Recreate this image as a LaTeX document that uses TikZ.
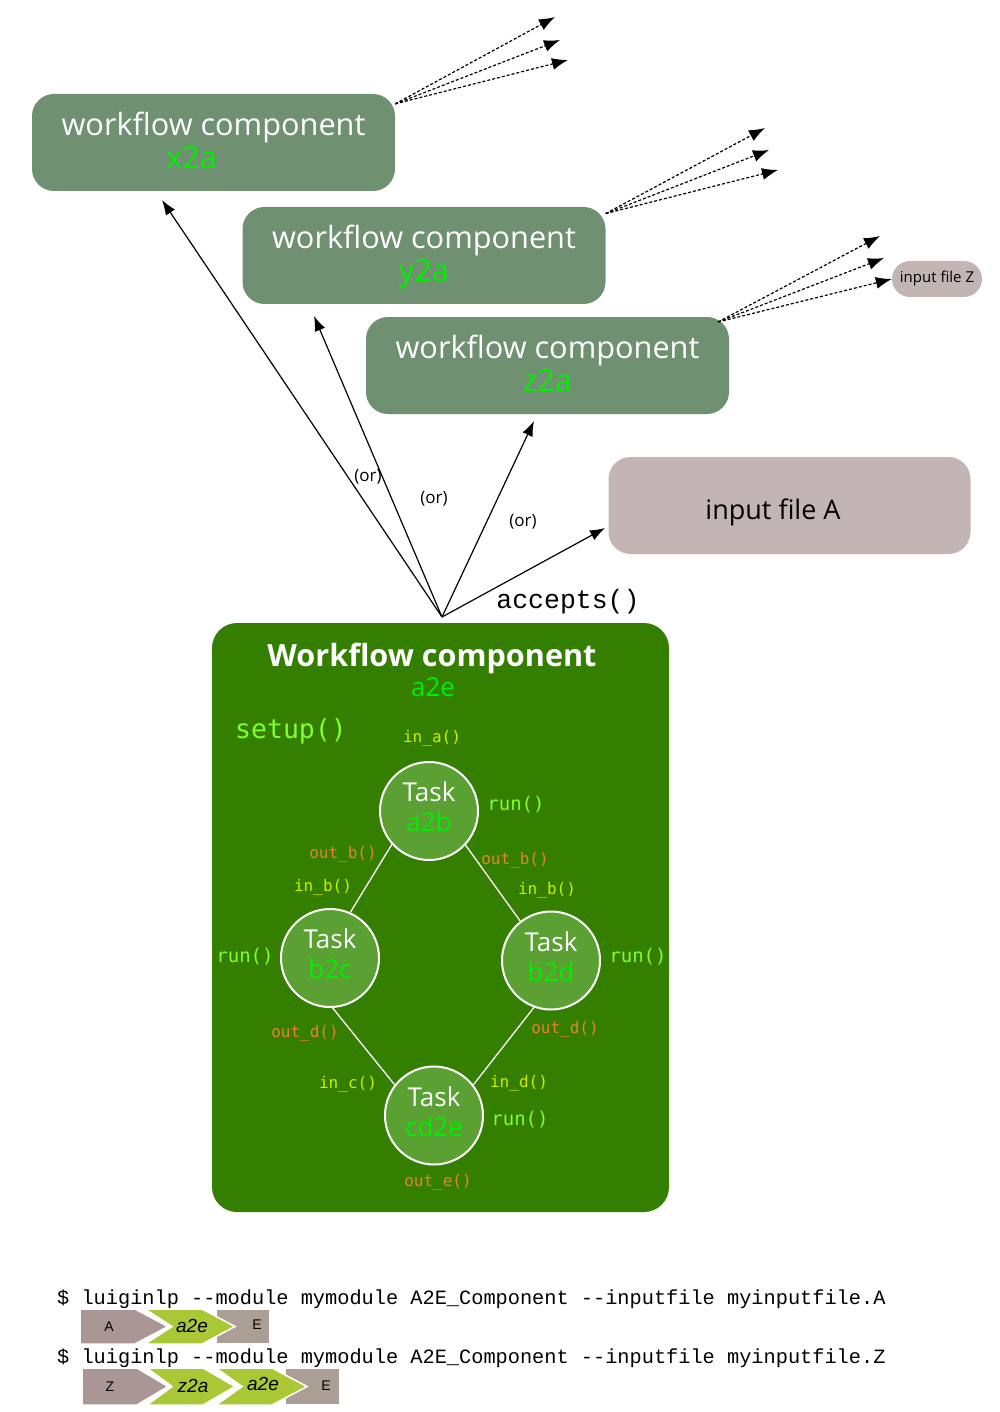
\documentclass[tikz,border=0pt]{standalone}
\usepackage{fontspec}
\setmainfont{Open Sans}
\setmonofont{DejaVu Sans Mono}
\newfontfamily\cmdfont{Liberation Mono}
\newfontfamily\tagfont{Liberation Sans}
\usetikzlibrary{arrows.meta,shapes.misc}
\definecolor{wfgrey}{HTML}{6F9171}
\definecolor{wfgreen}{HTML}{347F00}
\definecolor{taskgreen}{HTML}{5AA032}
\definecolor{idgreen}{HTML}{00F000}
\definecolor{outorange}{HTML}{EE7F2D}
\definecolor{inyellow}{HTML}{CCEE00}
\definecolor{rungreen}{HTML}{80FF30}
\definecolor{filepink}{HTML}{C4B5B5}
\definecolor{tagmauve}{HTML}{AB9696}
\definecolor{tagolive}{HTML}{AAC735}
\definecolor{taggrey}{HTML}{AB9F95}
\tikzset{
wfbox/.style={rectangle,rounded corners=22pt,fill=wfgrey,minimum width=363pt,minimum height=97pt,
  align=center,text=white,inner sep=0pt,text depth=4pt,font=\fontsize{30.7}{33}\selectfont},
filebox/.style={rectangle,rounded corners=22pt,fill=filepink,minimum width=362pt,minimum height=97pt},
task/.style={circle,draw=white,line width=2pt,fill=taskgreen,minimum size=98pt,inner sep=0pt,
  align=center,text=white,text depth=8pt,font=\fontsize{26}{30}\selectfont},
taskline/.style={draw=white,line width=1.3pt},
accept/.style={-{Latex[length=15pt,width=11pt]},line width=1.2pt},
output/.style={-{Latex[length=16pt,width=12pt]},line width=1.2pt,dash pattern=on 3pt off 2pt},
inlabel/.style={text=inyellow,font=\ttfamily\fontsize{16}{18}\selectfont},
outlabel/.style={text=outorange,font=\ttfamily\fontsize{16}{18}\selectfont},
runlabel/.style={text=rungreen,font=\ttfamily\fontsize{19}{21}\selectfont},
orlabel/.style={font=\fontsize{17}{19}\selectfont},
tag/.style={draw=white,line width=1.5pt},
}
\tikzstyle{cmd} = [anchor=west, inner sep=0pt, font=\cmdfont\fontsize{20.3}{22}\selectfont]

\begin{document}
\begin{tikzpicture}[x=1pt,y=-1pt]
\useasboundingbox (0,0) rectangle (1000,1412);

% other components
\node[wfbox] (x2a) at (213.5,142.5) {workflow component\\\textcolor{idgreen}{x2a}\hspace*{44pt}};
\node[wfbox] (y2a) at (424,255.5) {workflow component\\\textcolor{idgreen}{y2a}};
\node[wfbox] (z2a) at (547.5,365.5) {workflow component\\\textcolor{idgreen}{z2a}};
\node[filebox] (inA) at (789.5,505.5) {};
\node[font=\fontsize{27}{30}\selectfont] (inAtext) at (773,512) {input file A};
\node[rounded rectangle,fill=filepink,minimum width=90pt,minimum height=36pt,inner sep=0pt,
  font=\fontsize{15}{17}\selectfont] (inZ) at (937,279) {input file Z};

% dashed outputs
\coordinate (z2src) at (718,322);
\coordinate (x2o1) at (555,17);
\coordinate (x2o2) at (560,40);
\coordinate (x2o3) at (568,60);
\coordinate (y2o1) at (765,128);
\coordinate (y2o2) at (769,150);
\coordinate (y2o3) at (778,170);
\coordinate (z2o1) at (880,236);
\coordinate (z2o2) at (884,258);
\draw[output] (x2a.12) -- (x2o1);
\draw[output] (x2a.12) -- (x2o2);
\draw[output] (x2a.12) -- (x2o3);
\draw[output] (y2a.13) -- (y2o1);
\draw[output] (y2a.13) -- (y2o2);
\draw[output] (y2a.13) -- (y2o3);
\draw[output] (z2src) -- (z2o1);
\draw[output] (z2src) -- (z2o2);
\draw[output] (z2src) -- (inZ.west);

% main component
\node[rectangle,rounded corners=25pt,fill=wfgreen,minimum width=457pt,minimum height=589pt,inner sep=0pt]
  (a2e) at (440.5,917.5) {};
\node[text=white,font=\bfseries\fontsize{30.6}{33}\selectfont] (title) at (432,658) {Workflow component};
\node[text=idgreen,font=\fontsize{26}{29}\selectfont] (name) at (433,687) {a2e};
\node[text=rungreen,font=\ttfamily\fontsize{26.5}{29}\selectfont] (setup) at (291,731) {setup()};

% accepts
\coordinate (acc) at (442,617);
\coordinate (tx2a) at (162,200);
\coordinate (ty2a) at (314,316);
\coordinate (tz2a) at (534,421);
\coordinate (tinA) at (605,528);
\draw[accept] (acc) -- (tx2a);
\draw[accept] (acc) -- (ty2a);
\draw[accept] (acc) -- (tz2a);
\draw[accept] (acc) -- (tinA);
\node[orlabel] (or1) at (368,477) {(or)};
\node[orlabel] (or2) at (434,499) {(or)};
\node[orlabel] (or3) at (523,522) {(or)};
\node[font=\cmdfont\fontsize{26.5}{29}\selectfont] (acctext) at (568,602) {accepts()};

% tasks
\node[task] (a2b) at (429,811) {Task\\\textcolor{idgreen}{a2b}};
\node[task] (b2c) at (330,958) {Task\\\textcolor{idgreen}{b2c}};
\node[task] (b2d) at (551,960.5) {Task\\\textcolor{idgreen}{b2d}};
\node[task] (cd2e) at (434,1115.5) {Task\\\textcolor{idgreen}{cd2e}};
\draw[taskline] (a2b.222) -- (b2c.66);
\draw[taskline] (a2b.317) -- (b2d.128);
\draw[taskline] (b2c.273) -- (cd2e.142);
\draw[taskline] (b2d.250) -- (cd2e.38);

\node[inlabel] (ina) at (432,738) {in\_a()};
\node[runlabel] (runa) at (516,805) {run()};
\node[outlabel] (outb1) at (343,854) {out\_b()};
\node[inlabel] (inb1) at (323,887) {in\_b()};
\node[outlabel] (outb2) at (515,860) {out\_b()};
\node[inlabel] (inb2) at (547,890) {in\_b()};
\node[runlabel] (runc) at (245,957) {run()};
\node[runlabel] (rund) at (638,957) {run()};
\node[outlabel] (outd1) at (305,1033) {out\_d()};
\node[outlabel] (outd2) at (565,1029) {out\_d()};
\node[inlabel] (inc) at (348,1084) {in\_c()};
\node[inlabel] (ind) at (519,1083) {in\_d()};
\node[runlabel] (rune) at (520,1120) {run()};
\node[outlabel] (oute) at (438,1182) {out\_e()};

% command lines
\node[cmd] (cmdA) at (57,1299) {\$ luiginlp -{}-module mymodule A2E\_Component -{}-inputfile myinputfile.A};
\node[cmd] (cmdZ) at (57,1358) {\$ luiginlp -{}-module mymodule A2E\_Component -{}-inputfile myinputfile.Z};

\fill[tagmauve,tag] (80,1309) -- (135,1309) -- (168,1326.5) -- (135,1344) -- (80,1344) -- cycle;
\fill[taggrey,tag] (216,1309) rectangle (270,1344);
\fill[tagolive,tag] (145,1309) -- (202,1309) -- (235,1326.5) -- (202,1344) -- (145,1344) -- (172,1326.5) -- cycle;
\node[font=\tagfont\fontsize{14}{16}\selectfont] (tA) at (109,1327) {A};
\node[font=\tagfont\itshape\fontsize{19}{21}\selectfont] (ta2e) at (192,1326) {a2e};
\node[font=\tagfont\fontsize{14}{16}\selectfont] (tE) at (257,1325) {E};

\fill[tagmauve,tag] (82,1368) -- (137,1368) -- (168,1386.5) -- (137,1405) -- (82,1405) -- cycle;
\fill[taggrey,tag] (285,1368) rectangle (340,1405);
\fill[tagolive,tag] (147,1368) -- (203,1368) -- (235,1386.5) -- (203,1405) -- (147,1405) -- (172,1386.5) -- cycle;
\fill[tagolive,tag] (216,1368) -- (272,1368) -- (307,1386.5) -- (272,1405) -- (216,1405) -- (242,1386.5) -- cycle;
\node[font=\tagfont\fontsize{14}{16}\selectfont] (tZ) at (110,1387) {Z};
\node[font=\tagfont\itshape\fontsize{19}{21}\selectfont] (tz2a) at (193,1386) {z2a};
\node[font=\tagfont\itshape\fontsize{19}{21}\selectfont] (ta2e2) at (263,1384) {a2e};
\node[font=\tagfont\fontsize{14}{16}\selectfont] (tE2) at (326,1386) {E};
\end{tikzpicture}
\end{document}
